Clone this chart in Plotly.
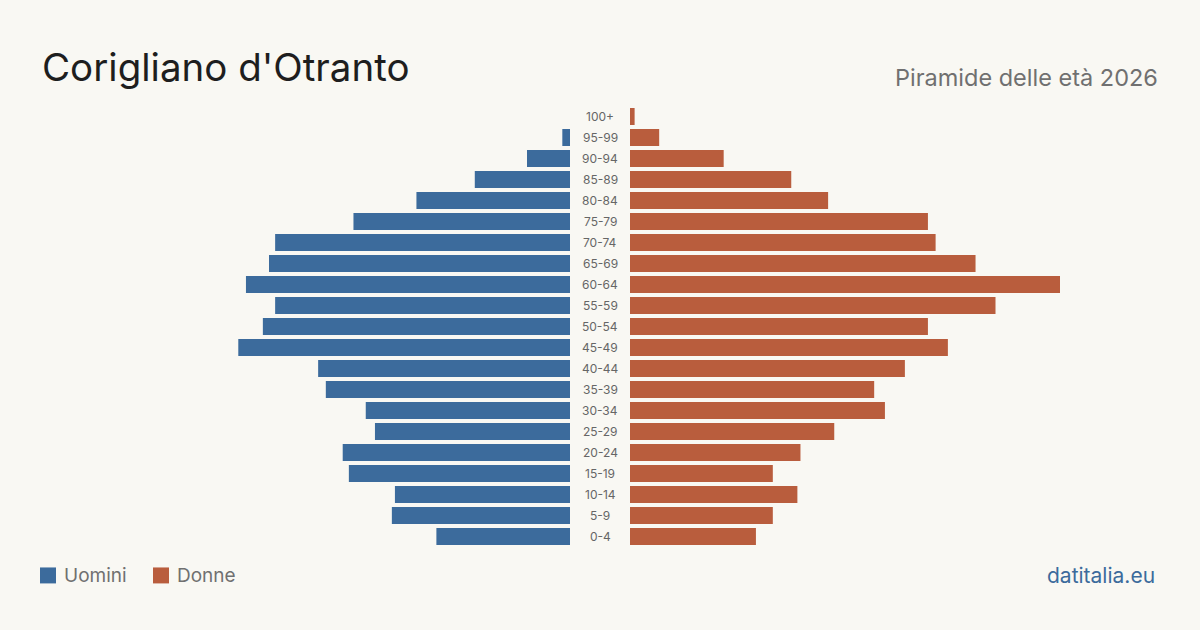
import plotly.graph_objects as go

age_groups = ["0-4", "5-9", "10-14", "15-19", "20-24", "25-29", "30-34", "35-39",
              "40-44", "45-49", "50-54", "55-59", "60-64", "65-69", "70-74", "75-79",
              "80-84", "85-89", "90-94", "95-99", "100+"]
men = [87, 116, 114, 144, 148, 127, 133, 159, 164, 216, 200, 192, 211, 196, 192, 141,
       100, 62, 28, 5, 0]
women = [82, 93, 109, 93, 111, 133, 166, 159, 179, 207, 194, 238, 280, 225, 199, 194,
         129, 105, 61, 19, 3]

title = "Corigliano d'Otranto"
subtitle = "Piramide delle età 2026"
source = "datitalia.eu"
men_label = "Uomini"
women_label = "Donne"

BLUE = "#3c6b9c"
ORANGE = "#b95d3d"
BG = "#f9f8f3"
FONT = "Inter, 'Noto Sans', sans-serif"

W, H = 1200, 630
px_per_unit = 430 / 280.0
xmax = 540 / px_per_unit

top = 105.5
bottom = 547.5
PH = bottom - top


def py(p):
    # pixel row -> paper y (paper is the plot area)
    return (bottom - p) / PH


fig = go.Figure()
fig.add_trace(go.Bar(y=age_groups, x=men, orientation="h", marker_color=BLUE,
                     marker_line_width=0,
                     xaxis="x", yaxis="y", name=men_label, showlegend=False,
                     hovertemplate="%{y}: %{x}<extra>" + men_label + "</extra>"))
fig.add_trace(go.Bar(y=age_groups, x=women, orientation="h", marker_color=ORANGE,
                     marker_line_width=0,
                     xaxis="x2", yaxis="y2", name=women_label, showlegend=False,
                     hovertemplate="%{y}: %{x}<extra>" + women_label + "</extra>"))

fig.update_layout(
    width=W, height=H,
    margin=dict(l=0, r=0, t=top, b=H - bottom),
    paper_bgcolor=BG, plot_bgcolor=BG,
    bargap=0.19,
    font=dict(family=FONT),
    xaxis=dict(domain=[30 / W, 570 / W], range=[xmax, 0], visible=False, fixedrange=True),
    xaxis2=dict(domain=[630 / W, 1170 / W], range=[0, xmax], visible=False, fixedrange=True),
    yaxis=dict(anchor="x", categoryorder="array", categoryarray=age_groups,
               range=[-0.5, len(age_groups) - 0.5], visible=False),
    yaxis2=dict(anchor="x2", matches="y", categoryorder="array", categoryarray=age_groups,
                visible=False),
)

annotations = []
for g in age_groups:
    annotations.append(dict(x=600 / W, xref="paper", y=g, yref="y", text=g,
                            showarrow=False, xanchor="center", yanchor="middle",
                            font=dict(size=12, color="#666666", family=FONT)))

annotations.append(dict(x=40 / W, xref="paper", y=py(66), yref="paper", text=title,
                        showarrow=False, xanchor="left", yanchor="middle",
                        font=dict(size=38.5, color="#1e1e1e", family=FONT)))
annotations.append(dict(x=1160 / W, xref="paper", y=py(77), yref="paper", text=subtitle,
                        showarrow=False, xanchor="right", yanchor="middle",
                        font=dict(size=23.5, color="#707070", family=FONT)))
annotations.append(dict(x=1157 / W, xref="paper", y=py(576), yref="paper", text=source,
                        showarrow=False, xanchor="right", yanchor="middle",
                        font=dict(size=21, color="#3c6b9c", family=FONT)))
annotations.append(dict(x=62 / W, xref="paper", y=py(576), yref="paper", text=men_label,
                        showarrow=False, xanchor="left", yanchor="middle",
                        font=dict(size=19, color="#707070", family=FONT)))
annotations.append(dict(x=175 / W, xref="paper", y=py(576), yref="paper", text=women_label,
                        showarrow=False, xanchor="left", yanchor="middle",
                        font=dict(size=19, color="#707070", family=FONT)))

shapes = [
    dict(type="rect", xref="paper", yref="paper", x0=40 / W, x1=56 / W,
         y0=py(584), y1=py(568), fillcolor=BLUE, line=dict(width=0)),
    dict(type="rect", xref="paper", yref="paper", x0=153 / W, x1=169 / W,
         y0=py(584), y1=py(568), fillcolor=ORANGE, line=dict(width=0)),
]

fig.update_layout(annotations=annotations, shapes=shapes)
fig.write_html("out.html")
